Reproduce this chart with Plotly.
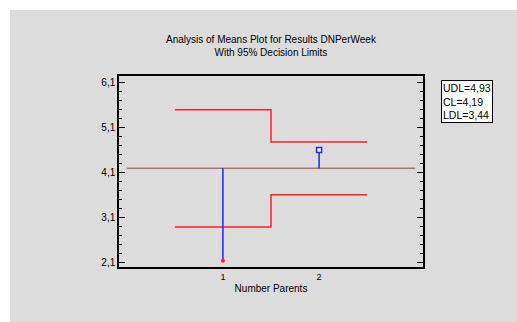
import plotly.graph_objects as go

groups = [1, 2]
group_labels = ["1", "2"]
means = [2.13, 4.60]
udl = [5.50, 4.78]
ldl = [2.88, 3.60]
cl = 4.19
legend_vals = {"UDL": "4,93", "CL": "4,19", "LDL": "3,44"}
ytick_vals = [2.1, 3.1, 4.1, 5.1, 6.1]
ytick_text = ["2,1", "3,1", "4,1", "5,1", "6,1"]

font = "Liberation Sans, Arial, sans-serif"

W, H = 517, 322
L, R, T, B = 119, 94, 76, 55
PW, PH = W - L - R, H - T - B


def px_x(x):
    return (x - L) / PW


def px_y(y):
    return (H - y - B) / PH


fig = go.Figure()

# step decision limits
xs = [g - 0.5 for g in groups] + [groups[-1] + 0.5]
fig.add_trace(go.Scatter(x=xs, y=udl + [udl[-1]], mode="lines", line=dict(color="#ff2020", width=1.5, shape="hv"), hoverinfo="skip"))
fig.add_trace(go.Scatter(x=xs, y=ldl + [ldl[-1]], mode="lines", line=dict(color="#ff2020", width=1.5, shape="hv"), hoverinfo="skip"))
# center line
fig.add_trace(go.Scatter(x=[0, 3], y=[cl, cl], mode="lines", line=dict(color="#c06868", width=1.5), hoverinfo="skip"))
# stems
for g, m in zip(groups, means):
    fig.add_trace(go.Scatter(x=[g, g], y=[cl, m], mode="lines", line=dict(color="#2020ff", width=1.5), hoverinfo="skip"))
# markers
fig.add_trace(go.Scatter(x=[groups[0]], y=[means[0]], mode="markers",
                         marker=dict(color="#ff2020", size=4, symbol="circle")))
fig.add_trace(go.Scatter(x=[groups[1]], y=[means[1]], mode="markers",
                         marker=dict(color="white", size=5, symbol="square", line=dict(color="#2020ff", width=1.5))))

fig.update_layout(
    width=W, height=H,
    margin=dict(l=L, r=R, t=T, b=B),
    paper_bgcolor="white",
    plot_bgcolor="white",
    showlegend=False,
    font=dict(family=font, size=10, color="black"),
    shapes=[dict(type="rect", xref="paper", yref="paper",
                 x0=px_x(10), x1=px_x(W), y0=px_y(H), y1=px_y(10),
                 fillcolor="#dcdcdc", line=dict(width=0), layer="below")],
    annotations=[
        dict(xref="paper", yref="paper", x=px_x(271), y=px_y(46), xanchor="center", yanchor="middle",
             text="Analysis of Means Plot for Results DNPerWeek<br>With 95% Decision Limits",
             showarrow=False, font=dict(size=10, family=font)),
        dict(xref="paper", yref="paper", x=px_x(466.5), y=px_y(101.5), xanchor="center", yanchor="middle",
             text="UDL=%s<br>CL=%s<br>LDL=%s" % (legend_vals["UDL"], legend_vals["CL"], legend_vals["LDL"]),
             showarrow=False, align="left", bordercolor="black", borderwidth=1, borderpad=1,
             bgcolor="white", font=dict(size=10.5, family=font)),
    ],
    xaxis=dict(range=[-0.08, 3.08], tickvals=groups, ticktext=group_labels, ticks="",
               showgrid=False, zeroline=False, showline=True, linecolor="black", linewidth=1.5,
               mirror=True, tickfont=dict(size=9),
               title=dict(text="Number Parents", font=dict(size=10), standoff=4)),
    yaxis=dict(range=[1.99, 6.25], tickvals=ytick_vals, ticktext=ytick_text, ticks="inside",
               ticklen=6, tickcolor="black", tickwidth=1, showgrid=False, zeroline=False,
               showline=True, linecolor="black", linewidth=1.5, mirror="allticks",
               tickfont=dict(size=10),
               minor=dict(tickvals=[round(2.1 + 0.2 * i, 2) for i in range(21)], ticks="inside",
                          ticklen=3, tickcolor="black", showgrid=False)),
)

fig.write_html("out.html", config={"displayModeBar": False},
               post_script="document.body.style.margin='0';document.body.style.overflow='hidden';")
